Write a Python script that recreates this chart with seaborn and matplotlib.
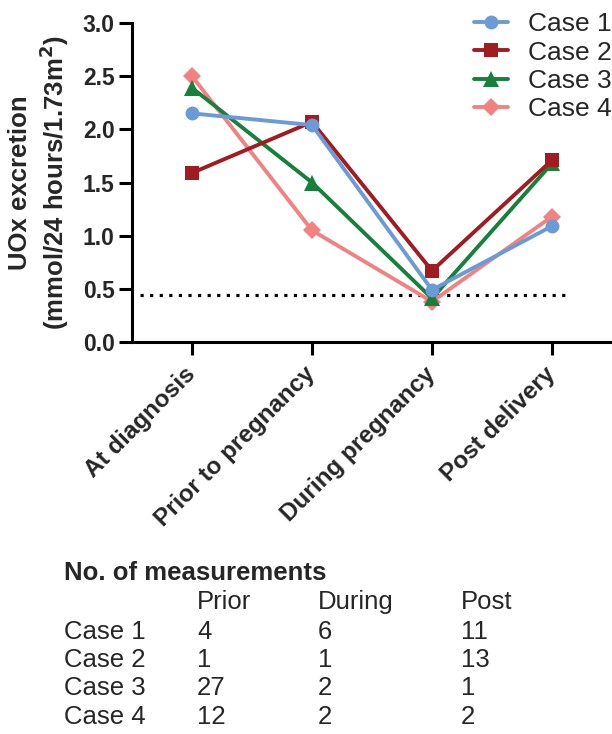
import numpy as np
import pandas as pd
import matplotlib
matplotlib.use('Agg')
import matplotlib.pyplot as plt
import matplotlib.transforms as mtransforms
import seaborn as sns

# Datos
etapas = ['At diagnosis', 'Prior to pregnancy', 'During pregnancy', 'Post delivery']
casos = ['Case 1', 'Case 2', 'Case 3', 'Case 4']
case1 = [2.15, 2.04, 0.49, 1.09]
case2 = [1.59, 2.07, 0.67, 1.71]
case3 = [2.39, 1.50, 0.41, 1.68]
case4 = [2.50, 1.05, 0.38, 1.18]
umbral = 0.44

# Tabla de numero de mediciones
columnas_tabla = ['Prior', 'During', 'Post']
mediciones = {
    'Case 1': [4, 6, 11],
    'Case 2': [1, 1, 13],
    'Case 3': [27, 2, 1],
    'Case 4': [12, 2, 2],
}

colores = {'Case 1': '#6b9bd6', 'Case 2': '#a01c20', 'Case 3': '#17803a', 'Case 4': '#f28282'}
marcadores = {'Case 1': 'o', 'Case 2': 's', 'Case 3': '^', 'Case 4': 'D'}
tamanos = {'Case 1': 10, 'Case 2': 10, 'Case 3': 11, 'Case 4': 9}

sns.set_style('ticks')
plt.rcParams['font.family'] = ['Liberation Sans', 'DejaVu Sans']

valores = [case1, case2, case3, case4]
df = pd.DataFrame({
    'pos': np.tile(np.arange(len(etapas)), len(casos)),
    'valor': np.concatenate(valores),
    'caso': np.repeat(casos, len(etapas)),
})

fig = plt.figure(figsize=(6.12, 7.34), dpi=100)
W, H = 612, 734
ax = fig.add_axes([132 / W, (H - 342) / H, 480 / W, 319 / H])

# Linea de umbral punteada
ax.hlines(umbral, -0.43, 3.13, colors='black', linewidth=2.3,
          linestyles=(0, (1, 2)), zorder=1)

# Dibujar en orden inverso para que Case 1 quede encima
for i, caso in enumerate(reversed(casos)):
    sub = df[df['caso'] == caso]
    sns.lineplot(data=sub, x='pos', y='valor', ax=ax, color=colores[caso],
                 marker=marcadores[caso], markersize=tamanos[caso],
                 markeredgewidth=0, linewidth=2.8, label=caso, zorder=3 + i)

handles, labels = ax.get_legend_handles_labels()
orden = [labels.index(c) for c in casos]
ax.legend([handles[k] for k in orden], [labels[k] for k in orden],
          loc='upper right', bbox_to_anchor=(1.0, 0.983), bbox_transform=fig.transFigure,
          frameon=False, fontsize=19, handlelength=1.3, handletextpad=0.75,
          labelspacing=0.16, borderpad=0, borderaxespad=0)

ax.set_xlim(-0.5, 3.5)
ax.set_ylim(0, 3)
ax.set_yticks(np.arange(0, 3.01, 0.5))
ax.set_yticklabels([f'{v:.1f}' for v in np.arange(0, 3.01, 0.5)], fontsize=16.5, fontweight='bold')
ax.set_xticks(np.arange(len(etapas)))
ax.set_xticklabels(etapas, fontsize=17.5, fontweight='bold', rotation=45,
                   ha='right', va='center', rotation_mode='anchor')
desplazamiento = mtransforms.ScaledTranslation(0.16, 0, fig.dpi_scale_trans)
for etiqueta in ax.get_xticklabels():
    etiqueta.set_transform(etiqueta.get_transform() + desplazamiento)

ax.tick_params(axis='both', length=9.5, width=2.2, color='black')
ax.tick_params(axis='x', pad=11)
ax.tick_params(axis='y', pad=3)
for lado in ['left', 'bottom']:
    ax.spines[lado].set_linewidth(2.2)
    ax.spines[lado].set_color('black')
sns.despine(ax=ax)

ax.set_xlabel('')
ax.set_ylabel('UOx excretion\n(mmol/24 hours/1.73m$^\\mathbf{2}$)', fontsize=18.5, fontweight='bold',
              linespacing=1.2)
ax.yaxis.set_label_coords(-0.128, 0.5)

# Tabla de mediciones
x_cols = [197, 318, 461]
fig.text(64 / W, 1 - 573 / H, 'No. of measurements', fontsize=18.5, fontweight='bold',
         ha='left', va='center')
for x, col in zip(x_cols, columnas_tabla):
    fig.text(x / W, 1 - 602 / H, col, fontsize=18.5, ha='left', va='center')
y_filas = [632, 660, 688, 717]
for y, caso in zip(y_filas, casos):
    fig.text(64 / W, 1 - y / H, caso, fontsize=18.5, ha='left', va='center')
    for x, n in zip(x_cols, mediciones[caso]):
        fig.text(x / W, 1 - y / H, str(n), fontsize=18.5, ha='left', va='center')

fig.savefig('out.png', dpi=100)
